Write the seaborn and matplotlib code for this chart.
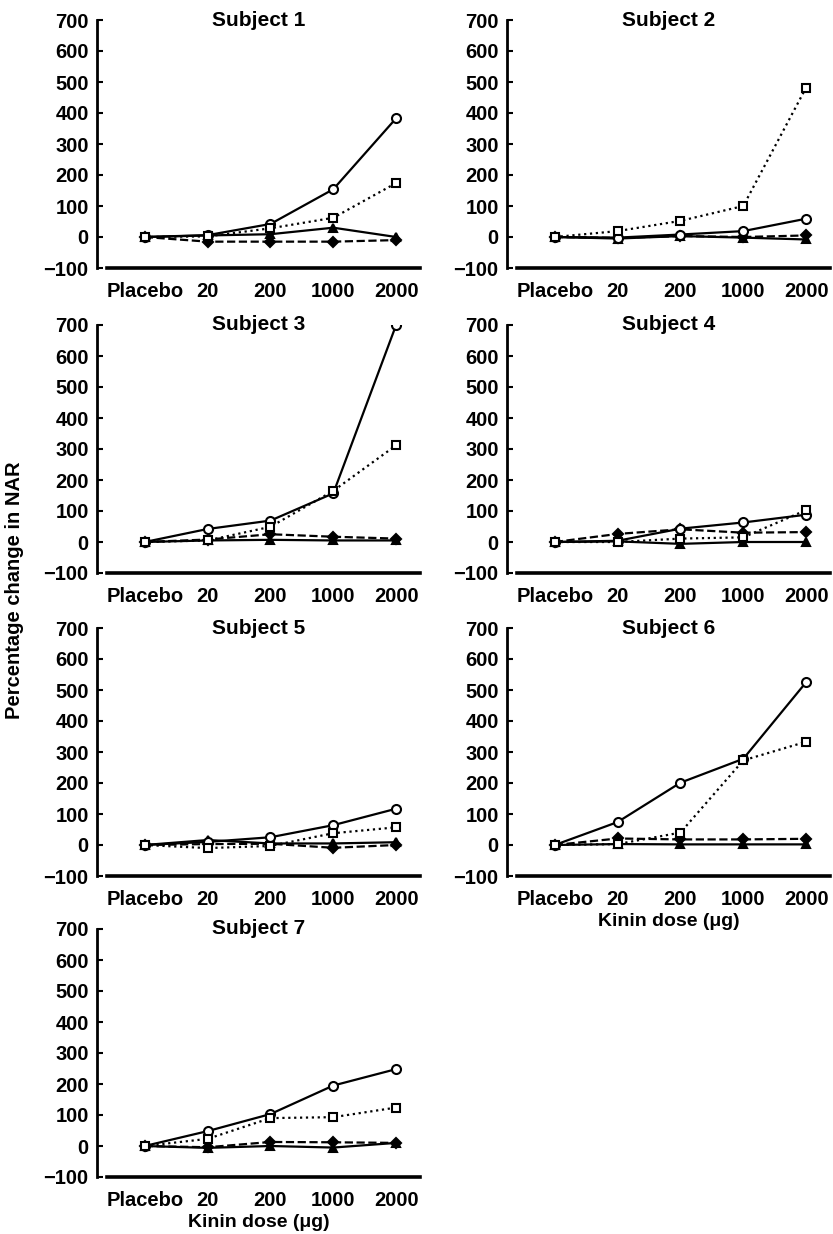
import numpy as np
import pandas as pd
import matplotlib
matplotlib.use("Agg")
import matplotlib.pyplot as plt
import seaborn as sns

# ---------------------
# Data
# ---------------------
doses = ["Placebo", "20", "200", "1000", "2000"]
subjects = ["Subject 1", "Subject 2", "Subject 3", "Subject 4",
            "Subject 5", "Subject 6", "Subject 7"]

# open circles, solid line
circle = [
    [0, 6, 42, 154, 383],
    [0, -2, 8, 19, 59],
    [0, 42, 69, 157, 700],
    [0, 4, 43, 63, 88],
    [0, 10, 25, 64, 117],
    [0, 74, 201, 278, 525],
    [0, 48, 103, 195, 248],
]
# open squares, dotted line
square = [
    [0, 2, 28, 62, 174],
    [0, 19, 52, 100, 482],
    [0, 5, 49, 165, 312],
    [0, 0, 11, 15, 103],
    [0, -10, -3, 38, 57],
    [0, 3, 40, 273, 333],
    [0, 23, 90, 93, 124],
]
# diamonds, dashed line
diamond = [
    [0, -15, -15, -15, -10],
    [0, -3, 3, 0, 5],
    [0, 8, 25, 17, 11],
    [0, 26, 41, 30, 32],
    [0, 3, 4, -9, 0],
    [0, 21, 18, 18, 20],
    [0, -4, 13, 12, 10],
]
# filled triangles, solid line
triangle = [
    [0, 5, 9, 30, 0],
    [0, -5, 3, -2, -8],
    [0, 5, 7, 5, 5],
    [0, 2, -6, 0, 0],
    [0, 16, 5, 5, 9],
    [0, 3, 2, 2, 2],
    [0, -6, 0, -5, 10],
]

series = [
    ("circle", circle, "o", "-", "white", 6.5),
    ("square", square, "s", ":", "white", 5.5),
    ("diamond", diamond, "D", "--", "black", 5.0),
    ("triangle", triangle, "^", "-", "black", 5.5),
]

sns.set_theme(style="white")
plt.rcParams["font.family"] = ["Liberation Sans", "DejaVu Sans"]
plt.rcParams["font.weight"] = "bold"
plt.rcParams["text.color"] = "black"

W, H = 833, 1234
fig = plt.figure(figsize=(W / 100, H / 100), dpi=100)

col_left = [97, 507]
row_top = [20, 325, 628, 929]
ax_w, ax_h = 323, 248
fs = 14.5

for i, name in enumerate(subjects):
    r, c = divmod(i, 2)
    x0 = col_left[c]
    y0 = row_top[r] + ax_h
    ax = fig.add_axes([x0 / W, 1 - y0 / H, ax_w / W, ax_h / H])

    rows = []
    for key, data, *_ in series:
        for k, d in enumerate(doses):
            rows.append({"series": key, "pos": k, "value": data[i][k]})
    df = pd.DataFrame(rows)

    for key, _, mk, ls, fc, ms in series:
        sub = df[df["series"] == key]
        sns.lineplot(data=sub, x="pos", y="value", ax=ax, color="black",
                     linestyle=ls, linewidth=1.6, marker=mk, markersize=ms,
                     markerfacecolor=fc, markeredgecolor="black",
                     markeredgewidth=1.5, zorder=3 if fc == "white" else 2)

    ax.set_xlim(-0.76, 4.38)
    ax.set_ylim(-100, 700)
    ax.set_yticks(range(-100, 701, 100))
    ax.set_yticklabels(["\u2212100"] + [str(v) for v in range(0, 701, 100)])
    ax.set_xticks(range(len(doses)))
    ax.set_xticklabels(doses)
    ax.set_xlabel("")
    ax.set_ylabel("")

    for s in ["top", "right"]:
        ax.spines[s].set_visible(False)
    ax.spines["left"].set_linewidth(2.0)
    ax.spines["left"].set_color("black")
    ax.spines["bottom"].set_linewidth(2.6)
    ax.spines["bottom"].set_color("black")
    ax.spines["bottom"].set_bounds(-0.6, 4.38)

    ax.tick_params(axis="y", direction="in", length=4, width=1.5,
                   labelsize=fs, pad=6, left=True, colors="black")
    ax.tick_params(axis="x", length=0, labelsize=fs, pad=10,
                   colors="black")
    ax.set_facecolor("white")

    ax.text(0.5, 1.0, name, transform=ax.transAxes, ha="center",
            va="center", fontsize=15, fontweight="bold", color="black")

    if i in (5, 6):
        ax.set_xlabel("Kinin dose (\u03bcg)", fontsize=14,
                      fontweight="bold", labelpad=3, color="black")

fig.text(15 / W, 1 - 590 / H, "Percentage change in NAR", rotation=90,
         ha="center", va="center", fontsize=fs, fontweight="bold",
         color="black")

fig.savefig("out.png", dpi=100, facecolor="white")
